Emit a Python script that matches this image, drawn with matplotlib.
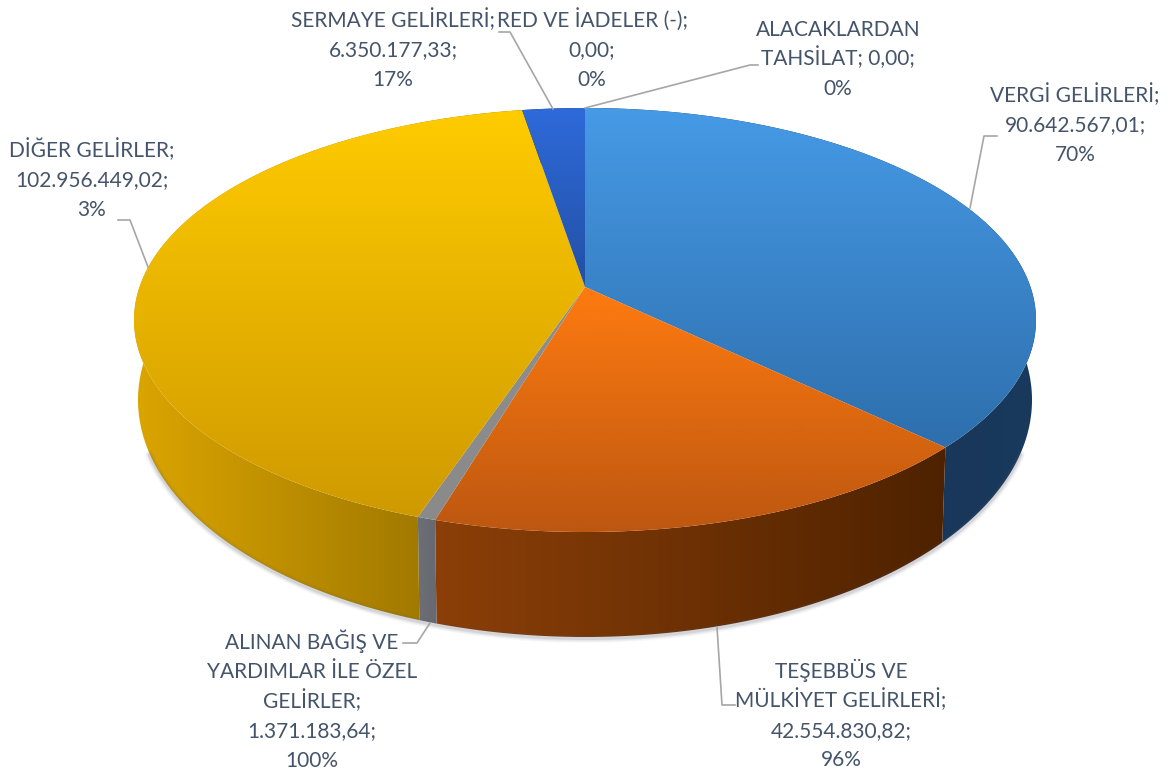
import numpy as np
import matplotlib
matplotlib.use('Agg')
import matplotlib.pyplot as plt
from matplotlib.colors import LinearSegmentedColormap
from matplotlib.patches import Polygon

plt.rcParams['font.family'] = ['Lato', 'DejaVu Sans']

names = ['VERGİ GELİRLERİ', 'TEŞEBBÜS VE\nMÜLKİYET GELİRLERİ', 'ALINAN BAĞIŞ VE\nYARDIMLAR İLE ÖZEL\nGELİRLER',
         'DİĞER GELİRLER', 'SERMAYE GELİRLERİ', 'RED VE İADELER (-)', 'ALACAKLARDAN\nTAHSİLAT']
values = [90642567.01, 42554830.82, 1371183.64, 102956449.02, 6350177.33, 0.0, 0.0]
percents = ['70%', '96%', '100%', '3%', '17%', '0%', '0%']

top_colors = [('#469ae6', '#2e6fad'), ('#ff7b10', '#bd5710'), ('#8e8e8e', '#8a8a8a'),
              ('#ffcb00', '#cf9a00'), ('#2e6ada', '#2350a5'), ('#888888', '#888888'), ('#888888', '#888888')]
wall_colors = [('#14304f', '#19395d'), ('#8c3f08', '#4e2200'), ('#6c7076', '#666a70'),
               ('#dba500', '#8e6a00'), ('#1a3a70', '#1a3a70'), ('#555555', '#555555'), ('#555555', '#555555')]

label_pos = [(1075, 95), (841, 671), (312, 642), (92, 150), (393, 20), (592, 20), (838, 29)]
leaders = [[(970, 208), (984, 136), (997, 136)],
           [(717, 627), (722, 705), (735, 705)],
           [(430, 623), (417, 643), (403, 643)],
           [(148, 267), (130, 220), (118, 220)],
           [(553, 109), (510, 32), (499, 32)],
           [(585, 108), (750, 65), (758, 65)]]

# ellipses of the top face and of the base, a = shift of the pie centre
top_e = (585, 320, 451, 212)
base_e = (585, 400, 447, 237)
a = 0.156


def project(t, e):
    # t clockwise from 12 o'clock, circle seen in perspective
    u, v = np.sin(t), np.cos(t)
    d = 1 + a * v
    return e[0] + e[2] * u * np.sqrt(1 - a * a) / d, e[1] - e[3] * (v + a) / d


def gradient(ax, poly, c1, c2, horizontal=False):
    poly.set_facecolor('none')
    poly.set_edgecolor('none')
    ax.add_patch(poly)
    xy = poly.get_xy()
    cmap = LinearSegmentedColormap.from_list('g', [c1, c2])
    ramp = np.linspace(0, 1, 256)
    ramp = ramp[None, :] if horizontal else ramp[:, None]
    im = ax.imshow(ramp, cmap=cmap, vmin=0, vmax=1, aspect='auto', origin='upper',
                   extent=(xy[:, 0].min(), xy[:, 0].max(), xy[:, 1].max(), xy[:, 1].min()),
                   interpolation='bilinear')
    im.set_clip_path(poly)


def money(v):
    return f'{v:,.2f}'.replace(',', '#').replace('.', ',').replace('#', '.')


fig = plt.figure(figsize=(11.71, 7.72), dpi=100)
ax = fig.add_axes([0, 0, 1, 1])

fr = np.cumsum([0] + values) / sum(values) * 2 * np.pi
apex = (top_e[0], top_e[1] - top_e[3] * a)

# soft shadow under the base
ts = np.linspace(np.pi * 0.62, np.pi * 1.38, 300)
sx, sy = project(ts, base_e)
for w, al in [(9, 0.03), (7, 0.05), (5, 0.07), (3, 0.12)]:
    ax.plot(sx, sy + 1.5, color='#555b66', lw=w * 0.72, alpha=al, solid_capstyle='round')

# walls
for i in range(len(values)):
    if values[i] == 0:
        continue
    t = np.linspace(fr[i], fr[i + 1], 200)
    x1, y1 = project(t, top_e)
    x2, y2 = project(t, base_e)
    xy = np.r_[np.c_[x1, y1], np.c_[x2, y2][::-1]]
    gradient(ax, Polygon(xy, closed=True), wall_colors[i][0], wall_colors[i][1], horizontal=True)

# top faces
for i in range(len(values)):
    if values[i] == 0:
        continue
    t = np.linspace(fr[i], fr[i + 1], 200)
    x1, y1 = project(t, top_e)
    xy = np.r_[[apex], np.c_[x1, y1]]
    gradient(ax, Polygon(xy, closed=True), top_colors[i][0], top_colors[i][1])

for pts in leaders:
    p = np.array(pts)
    ax.plot(p[:, 0], p[:, 1], color='#a6a6a6', lw=1.2)

# one text per line, mpl spaces lines unevenly around the dotted capitals
for i in range(len(names)):
    if i == 6:
        txt = names[i] + '; ' + money(values[i]) + ';\n' + percents[i]
    else:
        txt = names[i] + ';\n' + money(values[i]) + ';\n' + percents[i]
    for k, line in enumerate(txt.split('\n')):
        ax.text(label_pos[i][0], label_pos[i][1] + 7 + k * 29.5, line, ha='center', va='baseline',
                fontsize=15, color='#44546a')

ax.set_xlim(0, 1171)
ax.set_ylim(772, 0)
ax.axis('off')
fig.savefig('out.png', dpi=100)
